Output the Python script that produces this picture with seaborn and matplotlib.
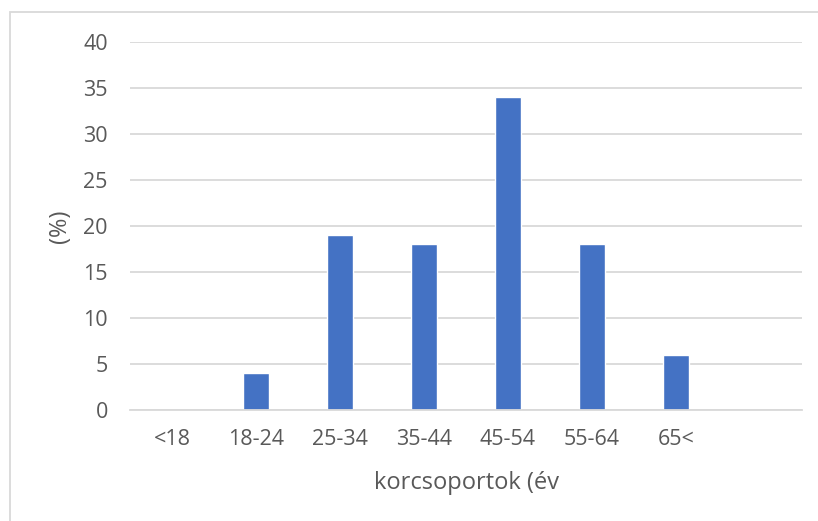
import pandas as pd
import matplotlib.pyplot as plt
import seaborn as sns
from matplotlib.patches import Rectangle

# Data
age_groups = ['<18', '18-24', '25-34', '35-44', '45-54', '55-64', '65<']
percent = [0, 4, 19, 18, 34, 18, 6]
order = age_groups + ['']  # empty slot at the end, as in the original
y_ticks = [0, 5, 10, 15, 20, 25, 30, 35, 40]

df = pd.DataFrame({'group': age_groups, 'pct': percent})

sns.set_style('white')
plt.rcParams['font.family'] = ['Open Sans', 'DejaVu Sans']
text_color = '#595959'
grid_color = '#d9d9d9'

fig = plt.figure(figsize=(8.18, 5.21), dpi=100)
ax = fig.add_axes([130 / 818, 1 - 410 / 521, 672 / 818, 368 / 521])

sns.barplot(data=df, x='group', y='pct', order=order, color='#4472C4',
            width=0.32, saturation=1, ax=ax)

ax.set_ylim(0, 40)
ax.set_yticks(y_ticks)
ax.set_xlim(-0.5, len(order) - 0.5)
ax.yaxis.grid(True, color=grid_color, linewidth=1.3)
ax.set_axisbelow(True)
for side in ['top', 'right', 'left']:
    ax.spines[side].set_visible(False)
ax.spines['bottom'].set_color(grid_color)
ax.spines['bottom'].set_linewidth(1.3)
ax.tick_params(axis='both', length=0, labelsize=15.5, colors=text_color)
ax.tick_params(axis='y', pad=16)
ax.tick_params(axis='x', pad=14)

ax.set_xlabel('korcsoportok (év', fontsize=17, color=text_color, labelpad=15)
ax.set_ylabel('(%)', fontsize=17, color=text_color, labelpad=8)

# chart frame (cropped at right and bottom in the original)
fig.patches.append(Rectangle((10 / 818, -0.05), 1.0, 1 - 12 / 521 + 0.05,
                             transform=fig.transFigure, fill=False,
                             edgecolor='#d9d9d9', linewidth=1.3))

plt.savefig('out.png', dpi=100)
